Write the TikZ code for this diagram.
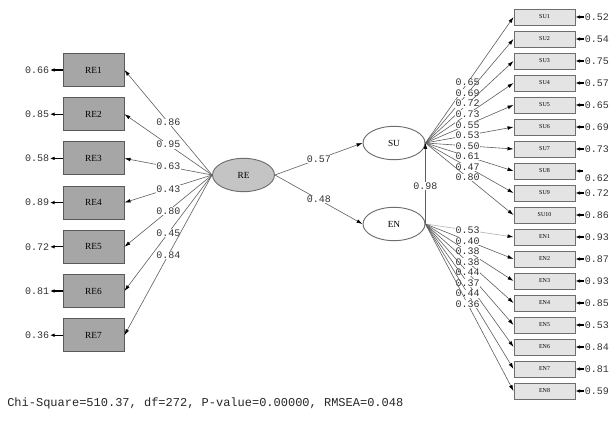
\documentclass[tikz,border=0pt]{standalone}
\usepackage{fontspec}
\setmainfont{Liberation Serif}
\setmonofont{Liberation Mono}
\usetikzlibrary{arrows.meta,shapes.geometric}
\definecolor{leftfill}{HTML}{A6A6A6}
\definecolor{leftdraw}{HTML}{5A5A5A}
\definecolor{rightfill}{HTML}{E4E4E4}
\definecolor{rightdraw}{HTML}{6E6E6E}
\definecolor{refill}{HTML}{C4C4C4}
\definecolor{linegray}{HTML}{5E5E5E}
\tikzset{
  leftbox/.style={draw=leftdraw, line width=0.7pt, fill=leftfill, minimum width=45.75pt, minimum height=24.75pt, inner sep=0pt, font=\fontsize{7}{8}\selectfont},
  rightbox/.style={draw=rightdraw, line width=0.7pt, fill=rightfill, minimum width=45.75pt, minimum height=12pt, inner sep=0pt, font=\fontsize{4.5}{5}\selectfont},
  latent/.style={ellipse, draw=rightdraw, line width=0.7pt, minimum width=46.5pt, minimum height=25pt, inner sep=0pt, font=\fontsize{7}{8}\selectfont},
  pathline/.style={draw=linegray, line width=0.45pt, -{Latex[length=4.5pt,width=2.8pt,color=black]}},
  errarrow/.style={draw=black, line width=0.8pt, -{Latex[length=3.5pt,width=2.8pt,color=black]}},
  lab/.style={font=\ttfamily\fontsize{7.5}{8}\selectfont, fill=white, inner sep=0.4pt, text=black!80},
  errl/.style={font=\ttfamily\fontsize{7.5}{8}\selectfont, inner sep=0.5pt, text=black!80},
}
\begin{document}
\begin{tikzpicture}[x=0.75pt,y=-0.75pt]
\useasboundingbox (0,0) rectangle (614,424);

% latent variables
\node[latent, fill=refill] (RE) at (243.5,175) {RE};
\node[latent, fill=white] (SU) at (394,143) {SU};
\node[latent, fill=white] (EN) at (394,224) {EN};

% left indicators
\foreach \i/\e in {1/0.66,2/0.85,3/0.58,4/0.89,5/0.72,6/0.81,7/0.36} {
  \node[leftbox] (re\i) at (93.5,{70+44.2*(\i-1)}) {RE\i};
  \node[errl, anchor=east] (ere\i) at (50,{70+44.2*(\i-1)}) {\e};
  \draw[errarrow] (re\i.west) -- (ere\i.east);
}

% right indicators SU
\foreach \i/\e in {1/0.52,2/0.54,3/0.75,4/0.57,5/0.65,6/0.69,7/0.73,9/0.72,10/0.86} {
  \node[rightbox] (su\i) at (544.5,{17+22*(\i-1)}) {SU\i};
  \node[errl, anchor=west] (esu\i) at (584,{17+22*(\i-1)}) {\e};
  \draw[errarrow] (esu\i.west) -- (su\i.east);
}
\node[rightbox] (su8) at (544.5,171) {SU8};
\node[errl, anchor=west] (esu8) at (584,178) {0.62};
\coordinate (esu8a) at (583,171);
\draw[errarrow] (esu8a) -- (su8.east);

% right indicators EN
\foreach \i/\e in {1/0.93,2/0.87,3/0.93,4/0.85,5/0.53,6/0.84,7/0.81,8/0.59} {
  \node[rightbox] (en\i) at (544.5,{17+22*(\i+9)}) {EN\i};
  \node[errl, anchor=west] (een\i) at (584,{17+22*(\i+9)}) {\e};
  \draw[errarrow] (een\i.west) -- (en\i.east);
}

% structural paths
\draw[pathline] (RE.east) -- node[lab] {0.57} (SU.west);
\draw[pathline] (RE.east) -- node[lab] {0.48} (EN.west);
\draw[pathline] (EN.east) -- node[lab, pos=0.47] {0.98} (SU.east);

% RE loadings
\foreach \i/\l in {1/0.86,2/0.95,3/0.63,4/0.43,5/0.80,6/0.45,7/0.84} {
  \draw[pathline] (RE.west) -- node[lab, pos=0.5] {\l} (re\i.east);
}

% SU loadings
\foreach \i/\l in {1/0.65,2/0.69,3/0.72,4/0.73,5/0.55,6/0.53,7/0.50,8/0.61,9/0.47,10/0.80} {
  \draw[pathline] (SU.east) -- node[lab, pos=0.48] {\l} (su\i.west);
}

% EN loadings
\draw[pathline, draw=black!30] (EN.east) -- node[lab, pos=0.48] {0.53} (en1.west);
\foreach \i/\l in {2/0.40,3/0.38,4/0.38,5/0.44,6/0.37,7/0.44,8/0.36} {
  \draw[pathline] (EN.east) -- node[lab, pos=0.48] {\l} (en\i.west);
}

% fit statistics
\node[anchor=west, font=\ttfamily\fontsize{9}{10}\selectfont, inner sep=0pt, text=black!85] (fit) at (7,403) {Chi-Square=510.37, df=272, P-value=0.00000, RMSEA=0.048};
\end{tikzpicture}
\end{document}
